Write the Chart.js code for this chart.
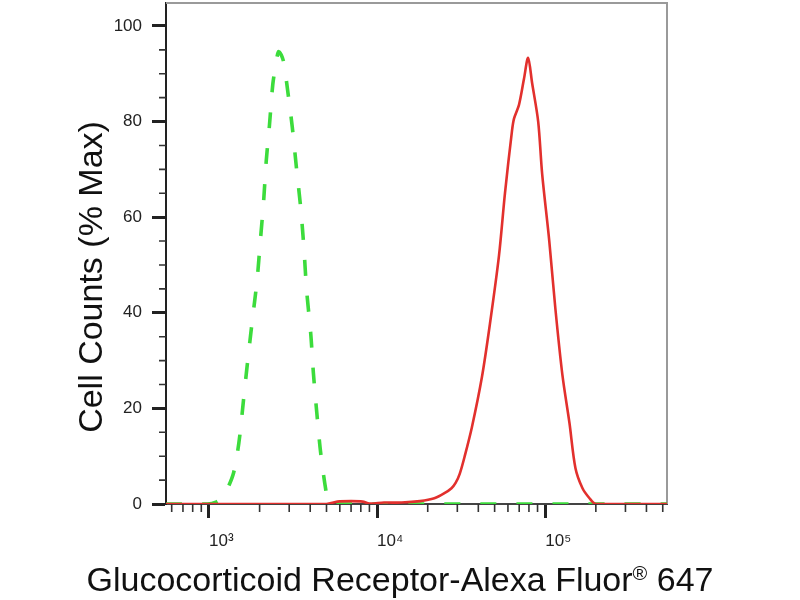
<!DOCTYPE html>
<html lang="en">
<head>
  <meta charset="UTF-8" />
  <title>Glucocorticoid Receptor - flow histogram</title>
  <style>
    * { margin: 0; padding: 0; box-sizing: border-box; }
    body { background: #fff; }
  </style>
</head>
<body>
  <canvas id="histo" width="800" height="600"></canvas>

  <script src="https://cdn.jsdelivr.net/npm/chart.js"></script>
  <script>
    const FONT = "'Liberation Sans', Arial, Helvetica, sans-serif";

    // isotype control (green, dashed)
    const controlX = [555, 980, 1100, 1214, 1300, 1400, 1480, 1533, 1607, 1700,
      1800, 1930, 2020, 2110, 2190, 2290, 2395, 2500, 2590, 2700,
      2800, 2900, 3125, 3320, 3510, 3670, 3810, 4030, 4180, 4380,
      4620, 4955, 5160, 5600, 530000];
    const controlY = [0, 0, 0.4, 1.5, 3.5, 6.5, 11, 15, 22, 30,
      37.7, 46.7, 55, 63, 71.7, 79.3, 87.7, 92, 94.6, 93.8,
      92, 88, 79, 70, 62, 53.5, 44.6, 35.6, 27.3, 19,
      10.6, 2.9, 0.3, 0, 0];

    // stained sample (red)
    const sampleX = [555, 3000, 5000, 5800, 7000, 8200, 9000, 11000, 14000, 18000,
      21900, 25000, 27700, 29300, 31000, 33200, 36600, 42000, 46900, 53100, 57600,
      63400, 65200, 69800, 74800, 79100, 83600, 90800, 95900, 105700, 114800,
      126500, 139300, 151300, 166600, 183400, 199200, 260000, 530000];
    const sampleY = [0, 0, 0, 0.5, 0.6, 0.5, 0.1, 0.3, 0.3, 0.6,
      1.2, 2.2, 3.3, 4.4, 6.3, 10, 16, 26.5, 37.7, 52, 65,
      78, 80.6, 83.5, 89, 93.3, 88, 80, 69, 55, 41,
      27, 17, 7.5, 3.3, 1.2, 0, 0, 0];

    const xTicks = [600, 700, 800, 900, 1000, 2000, 3000, 4000, 5000, 6000, 7000, 8000, 9000,
      10000, 20000, 30000, 40000, 50000, 60000, 70000, 80000, 90000,
      100000, 200000, 300000, 400000, 500000];
    const xMajor = [1000, 10000, 100000];
    const xLabels = ['10³', '10⁴', '10⁵'];

    const yTicks = [0, 5, 10, 15, 20, 25, 30, 35, 40, 45, 50, 55, 60, 65, 70, 75, 80, 85, 90, 95, 100];
    const yMajor = [0, 20, 40, 60, 80, 100];

    const yTitle = 'Cell Counts (% Max)';
    const xTitleParts = ['Glucocorticoid Receptor-Alexa Fluor', '®', ' 647'];

    const toPoints = (xs, ys) => xs.map((x, i) => ({ x, y: ys[i] }));

    // short minor ticks, grey frame and the axis titles
    const extras = {
      id: 'extras',
      beforeDatasetsDraw(chart) {
        const { ctx, chartArea: a } = chart;
        ctx.save();
        ctx.strokeStyle = '#9a9a9a';
        ctx.lineWidth = 2;
        ctx.beginPath();
        ctx.moveTo(a.left, a.top);
        ctx.lineTo(a.right, a.top);
        ctx.lineTo(a.right, a.bottom);
        ctx.stroke();
        ctx.restore();
      },
      afterDraw(chart) {
        const ctx = chart.ctx;
        const xs = chart.scales.x, ys = chart.scales.y;
        ctx.save();
        ctx.strokeStyle = '#333';
        ctx.lineWidth = 1.6;
        ctx.beginPath();
        xs.ticks.forEach((t, i) => {
          if (xMajor.includes(t.value)) return;
          const px = xs.getPixelForTick(i);
          ctx.moveTo(px, xs.top);
          ctx.lineTo(px, xs.top + 8);
        });
        ys.ticks.forEach((t, i) => {
          if (yMajor.includes(t.value)) return;
          const py = ys.getPixelForTick(i);
          ctx.moveTo(ys.right - 7, py);
          ctx.lineTo(ys.right, py);
        });
        ctx.stroke();

        ctx.fillStyle = '#111';
        ctx.textBaseline = 'alphabetic';

        // y title, rotated
        ctx.save();
        ctx.translate(102, 277);
        ctx.rotate(-Math.PI / 2);
        ctx.font = `34px ${FONT}`;
        ctx.textAlign = 'center';
        ctx.fillText(yTitle, 0, 0);
        ctx.restore();

        // x title with small raised ®
        const big = `34px ${FONT}`, small = `20px ${FONT}`;
        ctx.textAlign = 'left';
        const widths = xTitleParts.map((t, i) => {
          ctx.font = i === 1 ? small : big;
          return ctx.measureText(t).width;
        });
        let x = 400 - widths.reduce((s, w) => s + w, 0) / 2;
        xTitleParts.forEach((t, i) => {
          ctx.font = i === 1 ? small : big;
          ctx.fillText(t, x, i === 1 ? 580 : 591);
          x += widths[i];
        });
        ctx.restore();
      }
    };

    new Chart(document.getElementById('histo'), {
      type: 'line',
      data: {
        datasets: [
          {
            label: 'Glucocorticoid Receptor',
            data: toPoints(sampleX, sampleY),
            borderColor: '#e2302d',
            borderWidth: 2.6,
            pointRadius: 0,
            tension: 0.3,
            fill: false,
            order: 0
          },
          {
            label: 'Isotype control',
            data: toPoints(controlX, controlY),
            borderColor: '#3cdc3c',
            borderWidth: 3.6,
            borderDash: [16, 20],
            pointRadius: 0,
            tension: 0.3,
            fill: false,
            order: 1
          }
        ]
      },
      options: {
        responsive: false,
        animation: false,
        layout: { padding: { top: 3, right: 133, left: 0, bottom: 0 } },
        plugins: {
          legend: { display: false },
          tooltip: { enabled: false }
        },
        scales: {
          x: {
            type: 'logarithmic',
            min: 555,
            max: 530000,
            afterBuildTicks: (scale) => {
              scale.ticks = xTicks.map(v => ({ value: v, major: xMajor.includes(v) }));
            },
            afterFit: (scale) => {
              scale.height = 96;
              scale.paddingLeft = 0;
              scale.paddingRight = 0;
            },
            border: { display: true, color: '#444', width: 2 },
            grid: {
              drawOnChartArea: false,
              drawTicks: true,
              tickLength: 14,
              tickWidth: 3,
              tickColor: (c) => (c.tick && xMajor.includes(c.tick.value)) ? '#222' : 'transparent'
            },
            ticks: {
              autoSkip: false,
              maxRotation: 0,
              minRotation: 0,
              align: 'start',
              padding: 13,
              color: '#222',
              font: { family: FONT, size: 17 },
              callback: (v) => {
                const i = xMajor.indexOf(v);
                return i < 0 ? '' : xLabels[i];
              }
            }
          },
          y: {
            type: 'linear',
            min: 0,
            max: 104.8,
            afterBuildTicks: (scale) => {
              scale.ticks = yTicks.map(v => ({ value: v }));
            },
            afterFit: (scale) => {
              scale.width = 166;
              scale.paddingTop = 0;
              scale.paddingBottom = 0;
            },
            border: { display: true, color: '#222', width: 2 },
            grid: {
              drawOnChartArea: false,
              drawTicks: true,
              tickLength: 14,
              tickWidth: 3,
              tickColor: (c) => (c.tick && yMajor.includes(c.tick.value)) ? '#222' : 'transparent'
            },
            ticks: {
              autoSkip: false,
              padding: 10,
              color: '#222',
              font: { family: FONT, size: 17 },
              callback: (v) => yMajor.includes(v) ? String(v) : ''
            }
          }
        }
      },
      plugins: [extras]
    });
  </script>
</body>
</html>
